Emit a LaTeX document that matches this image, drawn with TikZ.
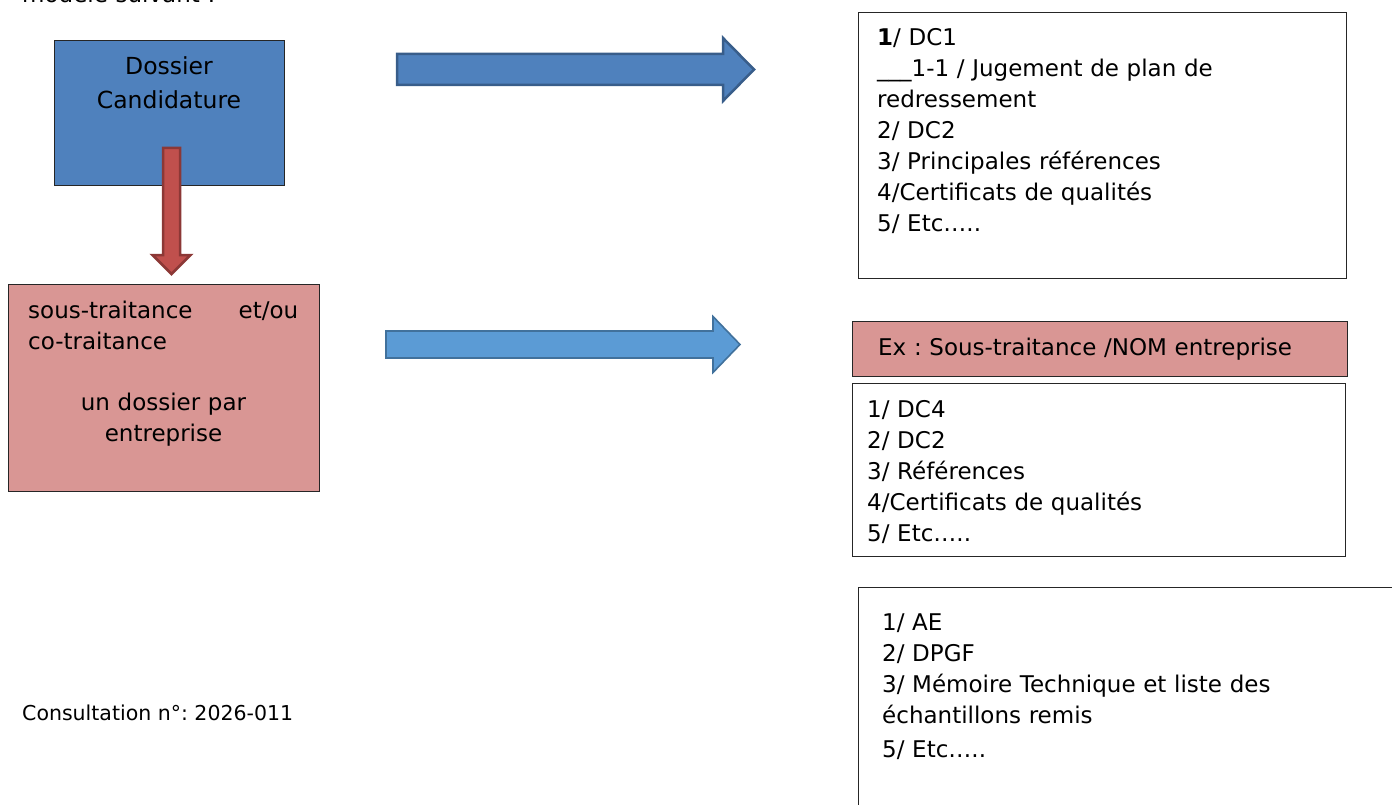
\documentclass[tikz,border=0pt]{standalone}
\usepackage{fontspec}
\setmainfont{DejaVu Sans}
\frenchspacing
\usetikzlibrary{calc}
\definecolor{boxblue}{HTML}{4F81BD}
\definecolor{boxblueline}{HTML}{385D8A}
\definecolor{lightblue}{HTML}{5B9BD5}
\definecolor{lightblueline}{HTML}{41719C}
\definecolor{arrowred}{HTML}{C0504D}
\definecolor{arrowredline}{HTML}{8C3836}
\definecolor{boxpink}{HTML}{D99694}
\tikzset{box/.style={shape=rectangle, draw=black!85, line width=1.2pt,
    inner sep=0pt, anchor=north west}}
\tikzset{listtxt/.style={anchor=base west, inner sep=0pt, align=left, text width=450pt,
    font=\fontsize{23}{31}\selectfont}}
\tikzset{bluearrow/.style={fill=boxblue, draw=boxblueline, line width=2.5pt, line join=miter}}
\tikzset{lightarrow/.style={fill=lightblue, draw=lightblueline, line width=1.6pt, line join=miter}}
\tikzset{redarrow/.style={fill=arrowred, draw=arrowredline, line width=2.5pt, line join=miter}}

\begin{document}
\begin{tikzpicture}[x=1pt, y=-1pt]
  \useasboundingbox (0,0) rectangle (1392,805);
  \clip (0,0) rectangle (1392,805);
  \node[listtxt] (intro) at (22,3) {modèle suivant :};

  \node[box, fill=boxblue, minimum width=230pt, minimum height=145pt] (dossier) at (54,40) {};
  \node[anchor=base, inner sep=0pt, align=center, text width=220pt,
    font=\fontsize{23.5}{34}\selectfont] (dossiertxt) at (169,75) {Dossier\\Candidature};

  \node[box, fill=boxpink, minimum width=311pt, minimum height=207pt] (traitance) at (8,284) {};
  \node[listtxt, text width=270pt] (traitancetxt) at (28,318) {sous-traitance\hfill et/ou\\co-traitance};
  \node[listtxt, anchor=base, align=center, text width=270pt] (parentreprise) at (163.5,410)
    {un dossier par\\entreprise};

  \coordinate (redtail) at (171.5,148);
  \draw[redarrow] ($(redtail)+(-8.5,0)$) -- ++(0,107) -- ++(-10.5,0) -- ++(19,19)
    -- ++(19,-19) -- ++(-10.5,0) -- ++(0,-107) -- cycle;

  \coordinate (arrowA) at (397,69.5);
  \draw[bluearrow] ($(arrowA)+(0,-15.5)$) -- ++(326,0) -- ++(0,-16) -- ++(31,31.5)
    -- ++(-31,31.5) -- ++(0,-16) -- ++(-326,0) -- cycle;

  \coordinate (arrowB) at (386,344.5);
  \draw[lightarrow] ($(arrowB)+(0,-13.5)$) -- ++(327,0) -- ++(0,-14.5) -- ++(27,28)
    -- ++(-27,28) -- ++(0,-14.5) -- ++(-327,0) -- cycle;

  \node[box, minimum width=488pt, minimum height=266pt] (listeA) at (858,12) {};
  \node[listtxt] (listeAtxt) at (877,46) {{\bfseries 1}/ DC1\\
    \_\_\_1-1 / Jugement de plan de\\redressement\\2/ DC2\\
    3/ Principales références\\4/Certificats de qualités\\5/ Etc…..};

  \node[box, fill=boxpink, minimum width=495pt, minimum height=55pt] (entete) at (852,321) {};
  \node[listtxt] (entetetxt) at (878,355) {Ex : Sous-traitance /NOM entreprise};

  \node[box, minimum width=493pt, minimum height=173pt] (listeB) at (852,383) {};
  \node[listtxt] (listeBtxt) at (867,417) {1/ DC4\\2/ DC2\\3/ Références\\
    4/Certificats de qualités\\5/ Etc…..};

  \node[box, minimum width=560pt, minimum height=240pt] (listeC) at (858,587) {};
  \node[listtxt] (listeCtxt) at (882,630) {1/ AE\\2/ DPGF\\
    3/ Mémoire Technique et liste des\\échantillons remis\\[3pt]5/ Etc…..};

  \node[anchor=base west, inner sep=0pt, font=\fontsize{20.5}{25}\selectfont]
    (consultation) at (22,720) {Consultation n°: 2026-011};
\end{tikzpicture}
\end{document}
